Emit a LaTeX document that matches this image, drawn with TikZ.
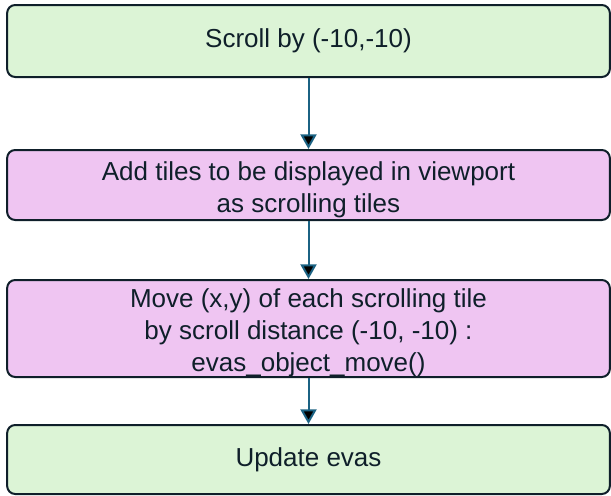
\documentclass[tikz,border=0pt]{standalone}
\usepackage{fontspec}
\setmainfont{Liberation Sans}
\usetikzlibrary{%
  positioning
 ,arrows.meta
}
\definecolor{boxline}{HTML}{0F1F2A}
\definecolor{greenfill}{HTML}{DCF4D6}
\definecolor{pinkfill}{HTML}{EFC5F2}
\definecolor{arrowcol}{HTML}{1B6283}
\tikzstyle{flow}=[x=0.75pt,y=-0.75pt,font=\fontsize{19.5}{24}\selectfont]
\tikzstyle{stp}=[rectangle,rounded corners=6pt,draw=boxline,line width=1.5pt,
  text=boxline,align=center,minimum width=452pt,inner sep=0pt]
\tikzstyle{gst}=[stp,fill=greenfill]
\tikzstyle{pst}=[stp,fill=pinkfill]
\tikzstyle{nxt}=[draw=arrowcol,line width=1.5pt,-{Triangle[width=12pt,length=11pt]}]

\begin{document}
\begin{tikzpicture}[flow]
      \useasboundingbox (0,0) rectangle (611,496);
      \node[gst,minimum height=54pt] (b_0) at (308.5,41) {Scroll by (-10,-10)};
      \node[pst,minimum height=52.5pt] (b_1) at (308.5,185)
        {\rule{0pt}{22pt}Add tiles to be displayed in viewport\\as scrolling tiles};
      \node[pst,minimum height=72.75pt] (b_2) at (308.5,328.5)
        {\rule{0pt}{20pt}Move (x,y) of each scrolling tile\\by scroll distance (-10, -10) :\\evas\_object\_move()};
      \node[gst,minimum height=51.75pt] (b_3) at (308.5,459.5) {Update evas};
      \path[nxt]
        (b_0) edge (b_1)
        (b_1) edge (b_2)
        (b_2) edge (b_3);
    \end{tikzpicture}
\end{document}
